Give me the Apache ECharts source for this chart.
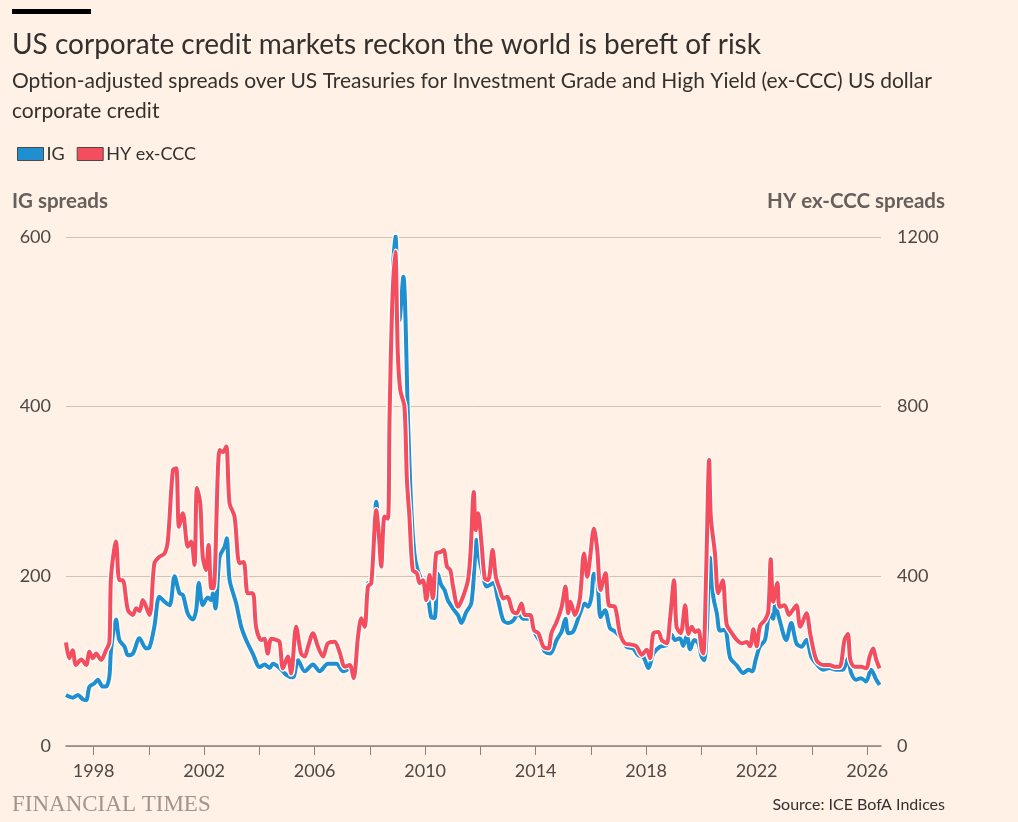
<!DOCTYPE html>
<html><head><meta charset="utf-8">
<script src="https://cdn.jsdelivr.net/npm/echarts@6/dist/echarts.min.js"></script>
<style>html,body{margin:0;padding:0;background:#fff1e5;}#c{width:1018px;height:822px;}</style>
</head><body><div id="c"></div>
<script>
var igDates = [1997.00,1997.24,1997.43,1997.61,1997.73,1997.85,1998.03,1998.15,1998.33,1998.45,1998.57,1998.63,1998.81,1998.93,1999.12,1999.24,1999.42,1999.66,1999.90,2000.02,2000.20,2000.38,2000.57,2000.75,2000.93,2001.11,2001.23,2001.41,2001.59,2001.71,2001.81,2001.95,2002.13,2002.26,2002.32,2002.41,2002.56,2002.74,2002.82,2002.92,2003.16,2003.34,2003.52,2003.76,2004.01,2004.19,2004.37,2004.49,2004.73,2004.97,2005.21,2005.40,2005.64,2005.94,2006.18,2006.48,2006.79,2007.03,2007.27,2007.45,2007.57,2007.69,2007.81,2007.93,2008.05,2008.23,2008.33,2008.41,2008.53,2008.65,2008.71,2008.81,2008.92,2009.07,2009.21,2009.38,2009.49,2009.61,2009.73,2009.92,2010.10,2010.22,2010.34,2010.46,2010.58,2010.70,2010.82,2011.01,2011.19,2011.31,2011.49,2011.67,2011.79,2011.85,2011.95,2012.10,2012.22,2012.46,2012.64,2012.83,2013.01,2013.19,2013.37,2013.55,2013.80,2013.98,2014.16,2014.34,2014.52,2014.76,2014.94,2015.08,2015.18,2015.36,2015.60,2015.78,2015.90,2016.02,2016.11,2016.23,2016.35,2016.51,2016.69,2016.87,2017.05,2017.29,2017.53,2017.71,2017.90,2018.08,2018.26,2018.50,2018.74,2018.92,2019.04,2019.22,2019.34,2019.47,2019.59,2019.74,2019.89,2020.01,2020.10,2020.19,2020.32,2020.43,2020.56,2020.67,2020.85,2021.04,2021.28,2021.52,2021.70,2021.85,2021.95,2022.11,2022.30,2022.47,2022.59,2022.67,2022.80,2023.07,2023.25,2023.44,2023.62,2023.80,2023.98,2024.16,2024.40,2024.64,2024.88,2025.12,2025.30,2025.42,2025.60,2025.78,2025.96,2026.14,2026.33,2026.45];
var igValues = [60,57,60,55,54,70,74,78,70,70,82,113,149,125,117,107,109,127,115,116,141,176,170,166,200,180,178,156,149,160,192,166,175,172,180,162,223,235,245,196,168,141,125,109,93,96,92,97,92,84,81,101,88,96,88,97,97,88,91,86,127,148,140,192,190,288,245,210,268,266,382,541,602,502,553,384,286,227,207,192,176,152,151,203,190,184,172,162,154,145,158,168,215,243,223,200,188,192,172,148,145,148,156,150,150,133,123,111,109,125,135,150,133,135,156,168,164,176,203,196,152,160,139,135,129,117,115,107,105,92,109,117,119,131,125,127,118,130,114,125,121,105,101,133,222,176,156,136,137,104,95,86,90,88,100,117,125,156,150,166,152,125,145,121,117,125,105,97,90,92,90,90,103,86,78,80,76,90,78,72];

var hyDates = [1997.00,1997.12,1997.24,1997.36,1997.55,1997.73,1997.85,1997.97,1998.09,1998.27,1998.45,1998.57,1998.63,1998.81,1998.93,1999.05,1999.24,1999.42,1999.54,1999.66,1999.78,2000.02,2000.20,2000.38,2000.57,2000.69,2000.87,2000.99,2001.09,2001.23,2001.41,2001.53,2001.65,2001.74,2001.86,2001.95,2002.07,2002.16,2002.26,2002.34,2002.56,2002.68,2002.80,2002.92,2003.10,2003.28,2003.43,2003.58,2003.76,2003.88,2004.06,2004.18,2004.30,2004.43,2004.61,2004.73,2004.85,2005.03,2005.15,2005.33,2005.51,2005.64,2005.76,2005.94,2006.12,2006.30,2006.48,2006.72,2006.91,2007.09,2007.27,2007.41,2007.57,2007.69,2007.81,2007.93,2008.05,2008.23,2008.33,2008.41,2008.53,2008.65,2008.71,2008.81,2008.92,2009.01,2009.10,2009.25,2009.34,2009.43,2009.55,2009.70,2009.80,2009.92,2010.04,2010.16,2010.28,2010.40,2010.55,2010.67,2010.79,2010.91,2011.01,2011.19,2011.37,2011.55,2011.64,2011.76,2011.83,2011.92,2012.04,2012.16,2012.28,2012.44,2012.56,2012.71,2012.83,2012.97,2013.17,2013.31,2013.49,2013.61,2013.80,2013.94,2014.10,2014.28,2014.46,2014.57,2014.76,2014.94,2015.08,2015.18,2015.26,2015.42,2015.60,2015.75,2015.87,2015.96,2016.11,2016.23,2016.35,2016.53,2016.65,2016.87,2017.05,2017.23,2017.47,2017.65,2017.84,2018.02,2018.14,2018.26,2018.44,2018.56,2018.74,2018.86,2019.01,2019.10,2019.25,2019.41,2019.53,2019.65,2019.77,2019.89,2020.01,2020.07,2020.17,2020.28,2020.34,2020.49,2020.61,2020.77,2020.91,2021.10,2021.28,2021.46,2021.64,2021.76,2021.88,2022.00,2022.12,2022.30,2022.42,2022.51,2022.60,2022.75,2022.83,2023.01,2023.17,2023.31,2023.44,2023.58,2023.80,2023.94,2024.16,2024.40,2024.64,2024.82,2025.00,2025.18,2025.30,2025.39,2025.54,2025.78,2025.96,2026.09,2026.21,2026.33,2026.45];
var hyValues = [244,207,226,191,204,191,222,207,218,203,226,244,399,482,391,391,321,309,325,318,344,309,431,446,454,486,651,655,517,549,470,482,427,608,572,446,415,474,372,372,698,693,706,572,541,431,434,360,360,281,250,253,218,253,250,246,183,211,171,281,218,211,234,266,234,211,242,246,220,187,191,160,258,301,281,376,384,556,493,423,541,536,769,1044,1165,926,839,800,627,541,415,407,384,391,344,403,348,454,457,462,423,415,376,328,352,391,454,599,509,549,478,395,391,462,399,368,348,352,317,313,336,309,309,273,266,234,230,266,293,328,376,313,340,309,348,454,399,438,513,462,368,407,332,328,266,242,239,235,215,227,207,266,269,250,242,297,391,281,266,332,264,281,269,273,227,218,407,674,540,454,360,391,288,266,250,242,245,235,275,235,283,297,317,440,340,384,328,332,309,321,332,281,313,264,203,191,191,187,187,250,264,203,187,187,183,211,230,203,183];

var xTicks = [1998,2000,2002,2004,2006,2008,2010,2012,2014,2016,2018,2020,2022,2024,2026];
var xLabels = [1998,2002,2006,2010,2014,2018,2022,2026];
var igTicks = [0,200,400,600];
var hyTicks = [0,400,800,1200];

var FONT = 'Lato, "Open Sans", sans-serif';
var BLUE = '#1f8fcf';
var RED = '#f44d5d';
function pairs(d, v){ return d.map(function(x,i){ return [x, v[i]]; }); }

var chart = echarts.init(document.getElementById('c'), null, {renderer:'canvas'});
var axisLabelStyle = {color:'#4d4845', fontSize:18, fontFamily:FONT};
chart.setOption({
  backgroundColor:'#fff1e5',
  animation:false,
  textStyle:{fontFamily:FONT},
  graphic:[
    {type:'rect', left:12, top:9, shape:{width:79, height:5}, style:{fill:'#000'}},
    {type:'text', left:12, top:31, style:{text:'US corporate credit markets reckon the world is bereft of risk', fill:'#33302e', font:'400 28px '+FONT}},
    {type:'text', left:12, top:66, style:{text:'Option-adjusted spreads over US Treasuries for Investment Grade and High Yield (ex-CCC) US dollar\ncorporate credit', fill:'#33302e', font:'400 21px '+FONT, lineHeight:30}},
    {type:'text', left:12, top:191, style:{text:'IG spreads', fill:'#66605c', font:'700 20.5px '+FONT}},
    {type:'text', right:73, top:191, style:{text:'HY ex-CCC spreads', fill:'#66605c', font:'700 20.5px '+FONT}},
    {type:'text', left:12, top:793, style:{text:'FINANCIAL TIMES', fill:'#9e958c', font:'400 23px "Liberation Serif", "DejaVu Serif", serif'}},
    {type:'text', right:73, top:797, style:{text:'Source: ICE BofA Indices', fill:'#33302e', font:'400 16px '+FONT}}
  ],
  legend:{
    left:12, top:140, itemWidth:26, itemHeight:13, itemGap:12, icon:'rect',
    data:[{name:'IG', itemStyle:{color:BLUE, borderColor:'#4d4845', borderWidth:1}},
          {name:'HY ex-CCC', itemStyle:{color:RED, borderColor:'#4d4845', borderWidth:1}}],
    textStyle:{color:'#33302e', fontSize:18, fontFamily:FONT, padding:[0,0,0,-2]},
    selectedMode:false
  },
  grid:{left:66, right:137, top:237, bottom:76, containLabel:false},
  xAxis:{
    type:'value', min:1997.0, max:2026.5,
    axisLine:{show:true, lineStyle:{color:'#8a817a', width:1.5}},
    axisTick:{show:true, length:9, customValues:xTicks, lineStyle:{color:'#8a817a', width:1}},
    axisLabel:Object.assign({margin:16, customValues:xLabels, formatter:function(v){return String(v);}}, axisLabelStyle),
    splitLine:{show:false}
  },
  yAxis:[
    {type:'value', min:0, max:600, interval:200, position:'left',
     axisLine:{show:false}, axisTick:{show:false},
     axisLabel:Object.assign({margin:15, customValues:igTicks, formatter:function(v){return String(v);}}, axisLabelStyle),
     splitLine:{show:true, lineStyle:{color:'#cfc3b8', width:1}}},
    {type:'value', min:0, max:1200, interval:400, position:'right',
     axisLine:{show:false}, axisTick:{show:false},
     axisLabel:Object.assign({margin:16, customValues:hyTicks, formatter:function(v){return String(v);}}, axisLabelStyle),
     splitLine:{show:false}}
  ],
  series:[
    {name:'IG-outline', type:'line', yAxisIndex:0, data:pairs(igDates, igValues), showSymbol:false, smooth:0.3, silent:true,
     lineStyle:{color:'#ffffff', width:6.5}, z:1},
    {name:'IG', type:'line', yAxisIndex:0, data:pairs(igDates, igValues), showSymbol:false, smooth:0.3,
     itemStyle:{color:BLUE}, lineStyle:{color:BLUE, width:4}, z:2},
    {name:'HY-outline', type:'line', yAxisIndex:1, data:pairs(hyDates, hyValues), showSymbol:false, smooth:0.3, silent:true,
     lineStyle:{color:'#ffffff', width:6.5}, z:3},
    {name:'HY ex-CCC', type:'line', yAxisIndex:1, data:pairs(hyDates, hyValues), showSymbol:false, smooth:0.3,
     itemStyle:{color:RED}, lineStyle:{color:RED, width:4}, z:4}
  ]
});
</script></body></html>
